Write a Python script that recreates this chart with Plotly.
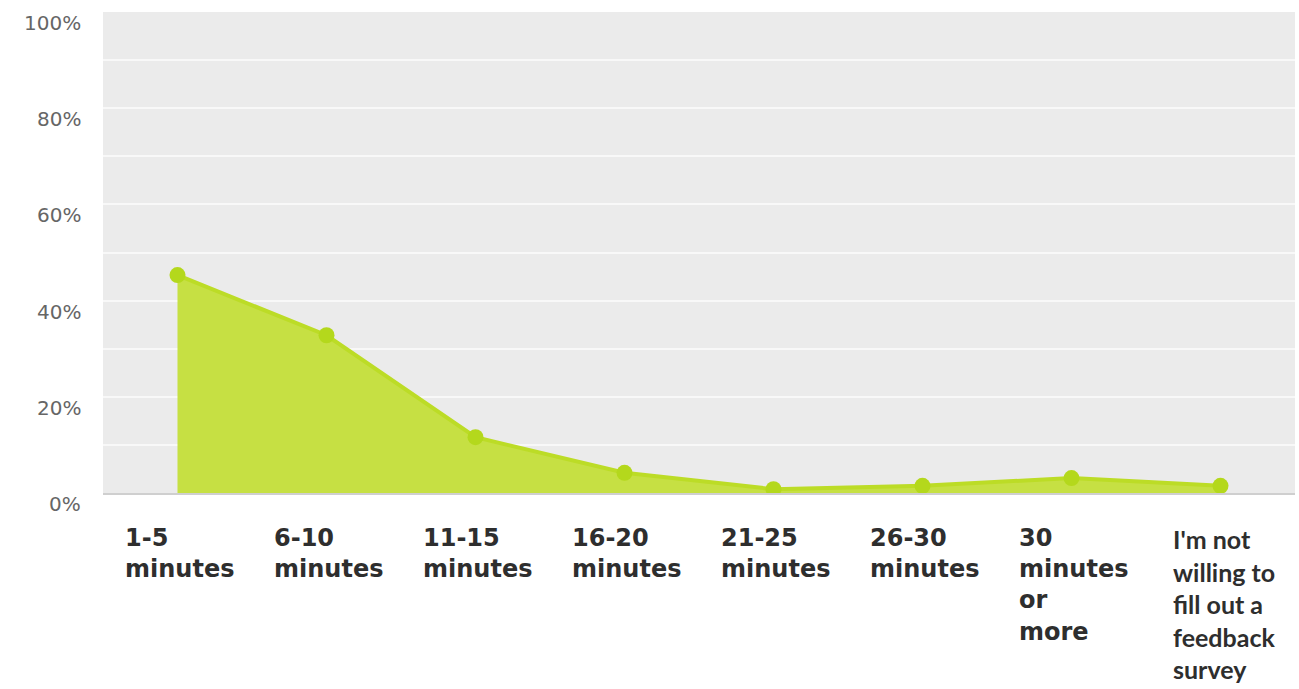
import plotly.graph_objects as go

categories = ["1-5<br>minutes", "6-10<br>minutes", "11-15<br>minutes", "16-20<br>minutes",
              "21-25<br>minutes", "26-30<br>minutes", "30<br>minutes<br>or<br>more",
              "I'm not<br>willing to<br>fill out a<br>feedback<br>survey"]
values = [45.3, 32.8, 11.6, 4.2, 0.8, 1.5, 3.1, 1.5]
y_ticks = [0, 20, 40, 60, 80, 100]
y_tick_labels = ["0%", "20%", "40%", "60%", "80%", "100%"]

x = list(range(len(categories)))

fig = go.Figure()
fig.add_trace(go.Scatter(
    x=x, y=values, mode="lines+markers",
    fill="tozeroy", fillcolor="#c6e043",
    line=dict(color="#bcdc26", width=4),
    marker=dict(color="#b4d81c", size=16),
    hoverinfo="skip", showlegend=False,
))

annotations = []
for i, lab in enumerate(categories):
    last = i == len(categories) - 1
    annotations.append(dict(
        x=i, xref="x", y=0, yref="paper", yshift=-29, xshift=-50 if last else -55,
        text=lab, showarrow=False, xanchor="left", yanchor="top", align="left",
        font=dict(family="Lato" if last else "DejaVu Sans", size=25 if last else 24,
                  color="#2e2e2e", weight="bold"),
    ))
for v, t in zip(y_ticks, y_tick_labels):
    annotations.append(dict(
        x=0, xref="paper", xshift=-20, y=v, yref="y", yshift=-11,
        text=t, showarrow=False, xanchor="right", yanchor="middle",
        font=dict(family="DejaVu Sans", size=20, color="#666666"),
    ))

fig.update_layout(
    width=1299, height=689,
    margin=dict(l=103, r=4, t=12, b=196),
    paper_bgcolor="white", plot_bgcolor="#ebebeb",
    xaxis=dict(range=[-0.5, 7.5], showticklabels=False, showgrid=False, zeroline=False,
               showline=True, linecolor="#cfcfcf", linewidth=2, fixedrange=True),
    yaxis=dict(range=[0, 100], tickvals=list(range(0, 101, 10)), showticklabels=False,
               showgrid=True, gridcolor="#f8f8f8", gridwidth=2, zeroline=False,
               showline=False, fixedrange=True),
    annotations=annotations,
)

fig.write_html("out.html")
